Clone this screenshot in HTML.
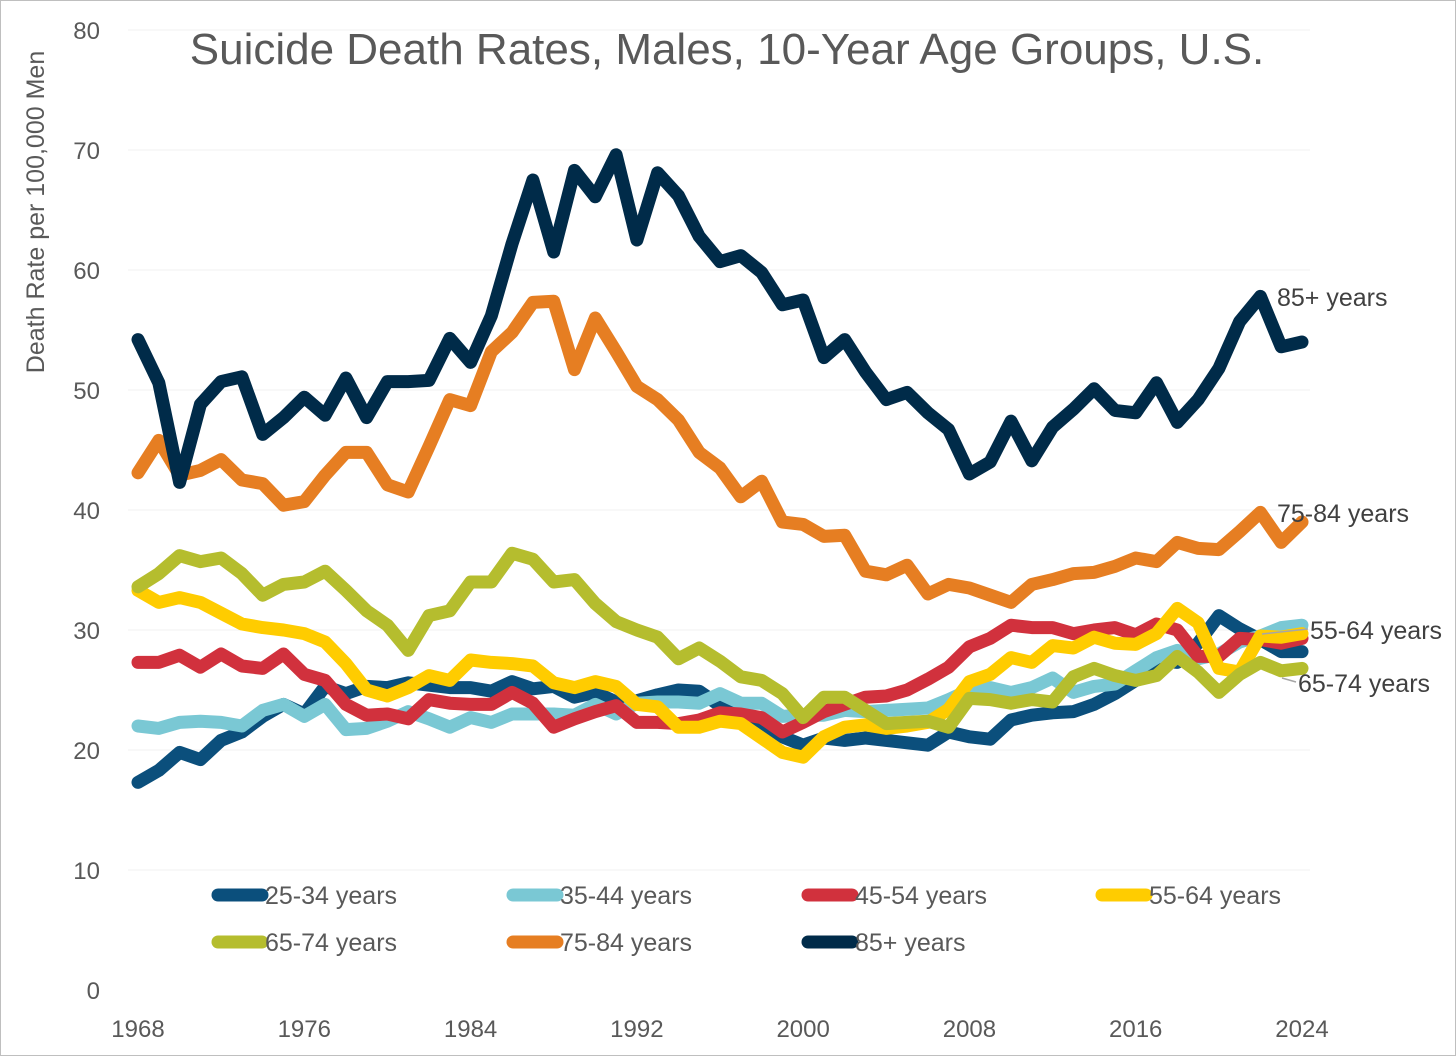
<!DOCTYPE html>
<html><head><meta charset="utf-8"><style>
html,body{margin:0;padding:0;background:#fff}
svg{display:block;font-family:"Liberation Sans",sans-serif}
</style></head><body>
<svg id="chart" width="1456" height="1056" viewBox="0 0 1456 1056">
<rect x="0.5" y="0.5" width="1455" height="1055" fill="#fff" stroke="#bfbfbf"/>
<text x="727" y="64" text-anchor="middle" font-size="44" fill="#595959">Suicide Death Rates, Males, 10-Year Age Groups, U.S.</text>
<text transform="translate(44,212) rotate(-90)" text-anchor="middle" font-size="25" fill="#595959">Death Rate per 100,000 Men</text>
<g id="grid"></g><g id="yticks"></g><g id="xticks"></g><g id="series"></g><g id="legend"></g>
<g id="labels" font-size="25" fill="#404040">
<text x="1277" y="306">85+ years</text>
<text x="1277" y="522">75-84 years</text>
<line x1="1262" y1="634" x2="1308" y2="629" stroke="#a6a6a6" stroke-width="1.5"/>
<text x="1310" y="639">55-64 years</text>
<line x1="1282" y1="678" x2="1296" y2="682" stroke="#a6a6a6" stroke-width="1.5"/>
<text x="1298" y="692">65-74 years</text>
</g>
</svg>
<script>
const startYear = 1968;
const yTicks = [0,10,20,30,40,50,60,70,80];
const xTicks = [1968,1976,1984,1992,2000,2008,2016,2024];
const seriesNames = ["25-34 years","35-44 years","45-54 years","55-64 years","65-74 years","75-84 years","85+ years"];
const seriesColors = ["#0B4F7C","#7AC8D4","#D1313D","#FFCC00","#B5BD2E","#E67E22","#002B49"];
const s25 = [17.3,18.3,19.8,19.2,20.8,21.5,22.8,23.8,23,25.3,24.7,25.3,25.2,25.6,25.4,25.2,25.2,24.9,25.7,25.1,25.3,24.4,24.8,24,24.1,24.6,25,24.9,23.7,23.2,22.3,21.1,20.4,21,20.8,21,20.8,20.6,20.4,21.5,21.1,20.9,22.5,22.9,23.1,23.2,23.8,24.7,25.8,27.5,27.3,28.9,31.2,30.1,29.2,28.2,28.2];
const s35 = [22,21.8,22.3,22.4,22.3,22,23.3,23.8,22.8,23.8,21.7,21.8,22.4,23.2,22.6,21.9,22.7,22.3,23,23,23,22.9,23.8,23,23.9,24,24,23.9,24.7,23.9,23.9,22.8,22.9,22.9,23.3,23.2,23.3,23.4,23.5,24.2,25,25.2,24.8,25.2,26,24.8,25.3,25.5,26.6,27.7,28.3,27.6,28,29,29.5,30.2,30.4];
const s45 = [27.3,27.3,27.9,26.9,28,27,26.8,28,26.3,25.8,23.8,22.9,23,22.6,24.2,23.9,23.8,23.8,24.8,23.9,21.9,22.6,23.2,23.7,22.3,22.3,22.2,22.5,23.1,23,22.7,21.5,22.3,23.2,23.8,24.4,24.5,25,25.9,26.9,28.6,29.3,30.4,30.2,30.2,29.7,30,30.2,29.6,30.5,30,27.8,27.8,29.3,29.2,28.9,29.3];
const s55 = [33.3,32.3,32.7,32.3,31.4,30.5,30.2,30,29.7,29,27.2,25,24.5,25.2,26.2,25.8,27.5,27.3,27.2,27,25.6,25.2,25.7,25.3,23.8,23.6,21.9,21.9,22.4,22.2,21,19.8,19.4,21.1,21.9,22.1,21.8,22,22.3,23.4,25.7,26.3,27.7,27.3,28.7,28.5,29.4,28.9,28.8,29.7,31.8,30.6,26.8,26.5,29.5,29.4,29.7];
const s65 = [33.6,34.7,36.2,35.7,36,34.7,32.9,33.8,34,34.9,33.3,31.6,30.4,28.3,31.2,31.6,34,34,36.4,35.9,34,34.2,32.2,30.7,30,29.4,27.6,28.5,27.4,26.1,25.8,24.7,22.7,24.4,24.4,23.3,22.2,22.3,22.4,21.9,24.3,24.2,23.9,24.2,24,26.1,26.8,26.2,25.8,26.2,27.8,26.5,24.8,26.3,27.3,26.6,26.8];
const s75 = [43.1,45.8,42.9,43.3,44.2,42.5,42.2,40.4,40.7,42.9,44.8,44.8,42.1,41.5,45.3,49.2,48.7,53.2,54.8,57.3,57.4,51.7,56,53.2,50.3,49.2,47.5,44.8,43.5,41.1,42.4,39,38.8,37.8,37.9,34.9,34.6,35.4,33,33.8,33.5,32.9,32.3,33.8,34.2,34.7,34.8,35.3,36,35.7,37.3,36.8,36.7,38.2,39.8,37.3,39];
const s85 = [54.2,50.6,42.3,48.8,50.7,51.1,46.3,47.7,49.4,47.9,51,47.7,50.7,50.7,50.8,54.3,52.3,56.2,62.2,67.5,61.5,68.3,66.1,69.6,62.5,68.1,66.2,62.8,60.7,61.2,59.8,57.1,57.5,52.7,54.2,51.5,49.2,49.8,48.1,46.7,43,44,47.4,44.1,46.9,48.4,50.1,48.3,48.1,50.6,47.3,49.2,51.8,55.7,57.8,53.6,54];
const allSeries = [s25,s35,s45,s55,s65,s75,s85];

const NS = "http://www.w3.org/2000/svg";
const X0=138, X1=1302, Y0=990, Y1=30;
function xs(yr){return X0+(yr-1968)*(X1-X0)/(2024-1968);}
function ys(v){return Y0-(v-0)*(Y0-Y1)/80;}
function mk(tag,attrs,parent){const e=document.createElementNS(NS,tag);for(const k in attrs)e.setAttribute(k,attrs[k]);parent.appendChild(e);return e;}

const grid=document.getElementById('grid'), yt=document.getElementById('yticks'), xt=document.getElementById('xticks');
yTicks.forEach(v=>{
  if(v>0){const l=mk('line',{x1:128,x2:1310,y1:ys(v),y2:ys(v),stroke:'#f0f0f0','stroke-width':1},grid);
  
  }
  const t=mk('text',{x:100,y:ys(v)+9,'text-anchor':'end','font-size':24,fill:'#595959'},yt);
  t.textContent=v;
  
  
});
xTicks.forEach(yr=>{
  const t=mk('text',{x:xs(yr),y:1037,'text-anchor':'middle','font-size':24,fill:'#595959'},xt);
  t.textContent=yr;
  
  
});
const sg=document.getElementById('series');
allSeries.forEach((arr,i)=>{
  const d=arr.map((v,j)=>(j?'L':'M')+xs(startYear+j).toFixed(1)+','+ys(v).toFixed(1)).join(' ');
  const p=mk('path',{d:d,fill:'none',stroke:seriesColors[i],'stroke-width':13,'stroke-linejoin':'round','stroke-linecap':'round'},sg);
  
  
});
const lg=document.getElementById('legend');
const colX=[218,513,808,1102], rowY=[895,942];
seriesNames.forEach((n,i)=>{
  const cx=colX[i%4], cy=rowY[Math.floor(i/4)];
  const g=mk('g',{},lg);
  
  
  mk('line',{x1:cx,x2:cx+44,y1:cy,y2:cy,stroke:seriesColors[i],'stroke-width':13,'stroke-linecap':'round'},g);
  const t=mk('text',{x:cx+47,y:cy+9,'font-size':25,fill:'#595959'},g);
  t.textContent=n;
});
</script>
</body></html>
